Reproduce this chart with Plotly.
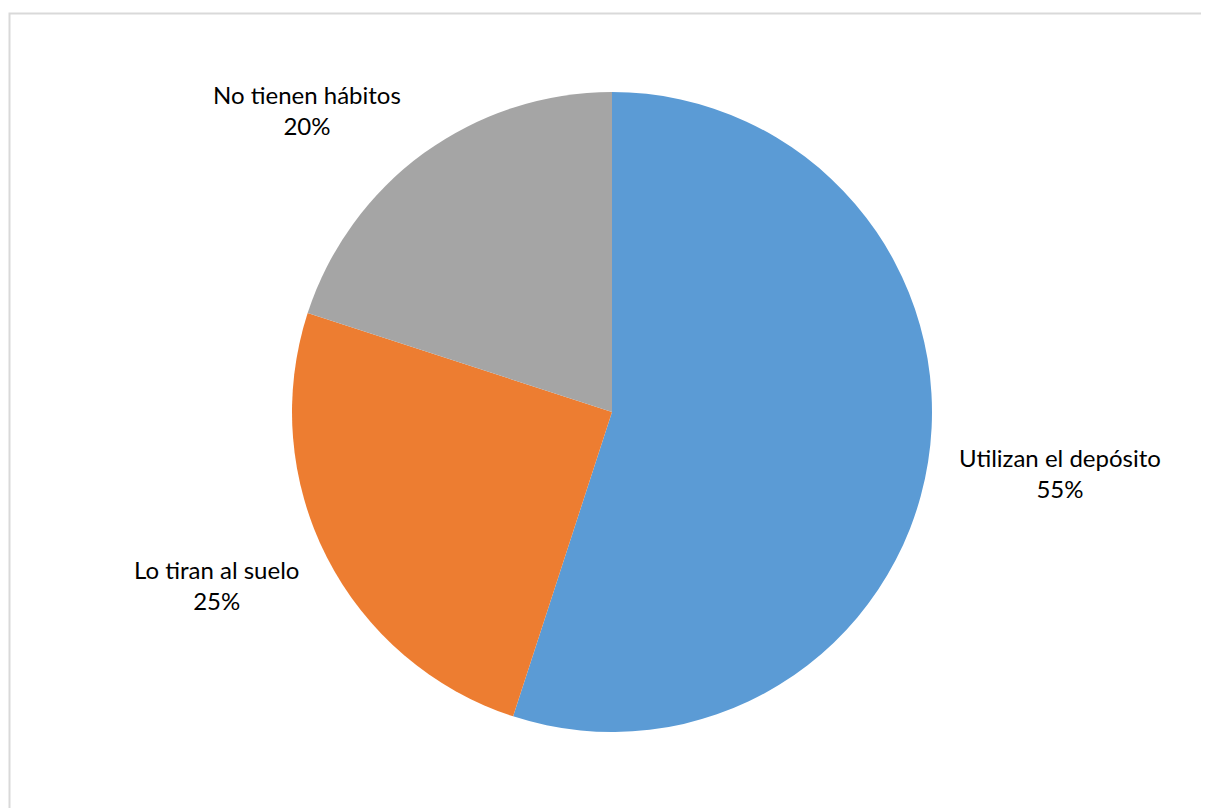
import plotly.graph_objects as go

categories = ["Utilizan el depósito", "Lo tiran al suelo", "No tienen hábitos"]
values = [55, 25, 20]
colors = ["#5B9BD5", "#ED7D31", "#A5A5A5"]

W, H = 1209, 808
OFF = 8  # page body margin
ML, MR, MT, MB = 0, 1, 84, 84
PW, PH = W - ML - MR, H - MT - MB

def px(x):
    return (x - OFF - ML) / PW

def py(y):
    return (H - MB - (y - OFF)) / PH

# label placements (screen pixel centers) for each category, in order
label_pos = [(1060, 473), (216, 585), (307, 110)]

fig = go.Figure(go.Pie(
    labels=categories,
    values=values,
    marker=dict(colors=colors, line=dict(color="white", width=0)),
    sort=False,
    direction="clockwise",
    rotation=0,
    textinfo="none",
    hoverinfo="label+percent",
    showlegend=False,
))

total = sum(values)
annotations = []
for cat, v, (lx, ly) in zip(categories, values, label_pos):
    annotations.append(dict(
        x=px(lx), y=py(ly), xref="paper", yref="paper",
        text=f"{cat}<br>{round(100 * v / total)}%",
        showarrow=False, xanchor="center", yanchor="middle",
        font=dict(family="Lato, Carlito, Calibri, sans-serif", size=24, color="#000000"),
    ))

fig.update_layout(
    width=W, height=H,
    margin=dict(l=ML, r=MR, t=MT, b=MB),
    paper_bgcolor="white", plot_bgcolor="white",
    annotations=annotations,
    shapes=[dict(
        type="rect", xref="paper", yref="paper",
        x0=px(9.5), x1=px(1240), y0=py(13.5), y1=py(840),
        line=dict(color="#D9D9D9", width=2), fillcolor="rgba(0,0,0,0)", layer="below",
    )],
)

fig.write_html("out.html")
